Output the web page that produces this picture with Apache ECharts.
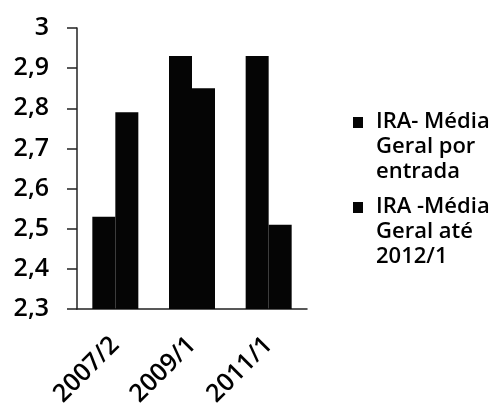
<!DOCTYPE html>
<html>
<head>
<meta charset="utf-8">
<script src="https://cdn.jsdelivr.net/npm/echarts@6/dist/echarts.min.js"></script>
<style>
  html, body { margin: 0; padding: 0; background: #fff; }
  #chart { width: 496px; height: 409px; }
</style>
</head>
<body>
<div id="chart"></div>
<script>
// dados
var categorias = ['2007/2', '2009/1', '2011/1'];
var nomeSerie1 = 'IRA- Média\nGeral por\nentrada';
var nomeSerie2 = 'IRA -Média\nGeral até\n2012/1';
var iraPorEntrada = [2.53, 2.93, 2.93];
var iraAte2012 = [2.79, 2.85, 2.51];

var fonte = '"Open Sans", "DejaVu Sans", sans-serif';

// quadradinho da legenda alinhado com a primeira linha do texto
var iconeLegenda = 'path://M0,8L10,8L10,19L0,19Z M18,0L18,0 M18,75L18,75';

var chart = echarts.init(document.getElementById('chart'));
var option = {
  animation: false,
  backgroundColor: '#fff',
  grid: {
    left: 77, top: 28, right: 189, bottom: 100,
    containLabel: false,
    outerBoundsMode: 'none'
  },
  legend: {
    orient: 'vertical',
    left: 353,
    top: 109,
    padding: 0,
    itemWidth: 18,
    itemHeight: 75,
    itemGap: 10,
    icon: iconeLegenda,
    textStyle: {
      fontFamily: fonte,
      fontSize: 22,
      fontWeight: 600,
      color: '#000',
      lineHeight: 25
    },
    data: [nomeSerie1, nomeSerie2]
  },
  xAxis: {
    type: 'category',
    data: categorias,
    axisLine: { lineStyle: { color: '#222', width: 1.5 } },
    axisTick: { length: 10, lineStyle: { color: '#222', width: 1.5 } },
    axisLabel: {
      rotate: 45,
      margin: 32,
      fontFamily: fonte,
      fontSize: 25,
      fontWeight: 600,
      color: '#000'
    }
  },
  yAxis: {
    type: 'value',
    min: 2.3,
    max: 3,
    interval: 0.1,
    splitLine: { show: false },
    axisLine: { show: true, lineStyle: { color: '#222', width: 1.5 } },
    axisTick: { show: true, length: 10, lineStyle: { color: '#222', width: 1.5 } },
    axisLabel: {
      margin: 28,
      fontFamily: fonte,
      fontSize: 25,
      fontWeight: 600,
      color: '#000',
      formatter: function (v) {
        return String(Math.round(v * 10) / 10).replace('.', ',');
      }
    }
  },
  series: [
    {
      name: nomeSerie1,
      type: 'bar',
      data: iraPorEntrada,
      barGap: '0%',
      barCategoryGap: '40%',
      itemStyle: { color: '#050505' }
    },
    {
      name: nomeSerie2,
      type: 'bar',
      data: iraAte2012,
      itemStyle: { color: '#050505' }
    }
  ]
};
chart.setOption(option);
</script>
</body>
</html>
